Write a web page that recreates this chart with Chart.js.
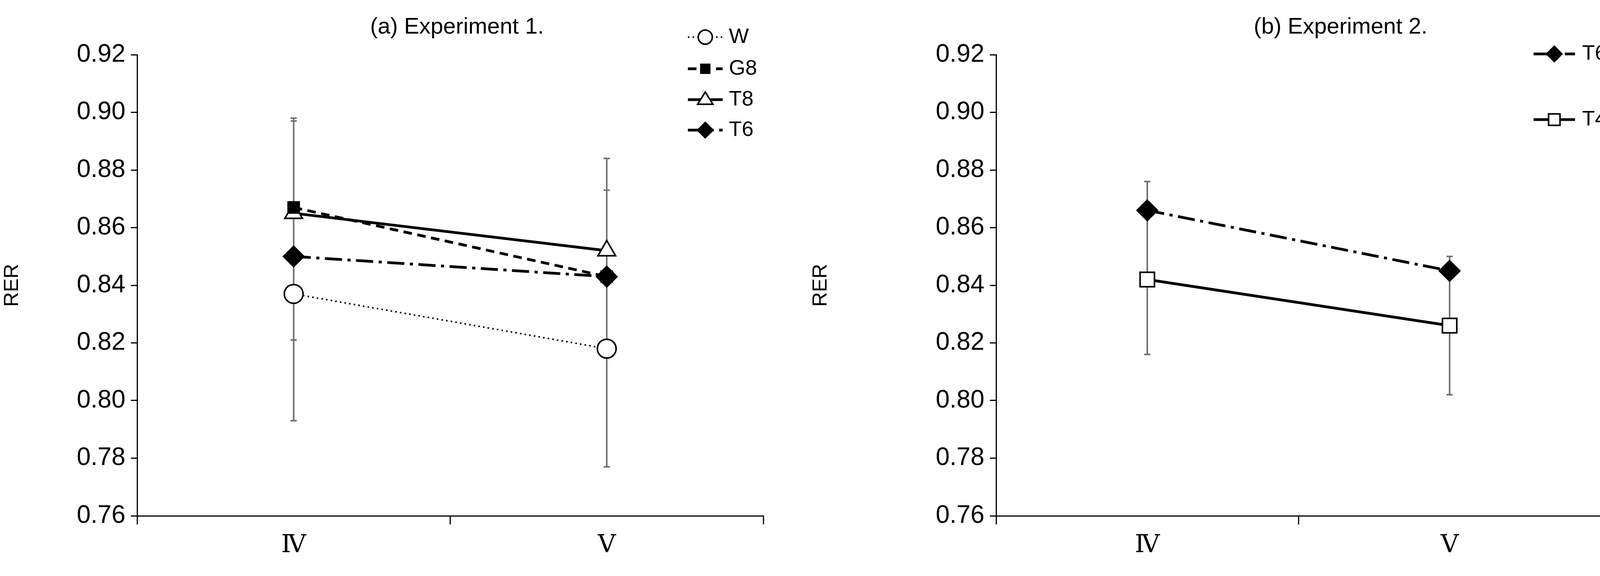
<!DOCTYPE html>
<html><head><meta charset="utf-8">
<script src="https://cdn.jsdelivr.net/npm/chart.js@4/dist/chart.umd.min.js"></script>
<style>
html,body{margin:0;padding:0;background:#fff;width:4140px;height:1474px;overflow:hidden}
.p{position:absolute;top:0;width:2070px;height:1474px}
</style></head><body>
<div class="p" style="left:0"><canvas id="c1"></canvas></div>
<div class="p" style="left:2070px"><canvas id="c2"></canvas></div>
<script>
const categories = ["Ⅳ", "Ⅴ"];
const yTicks = [0.76,0.78,0.80,0.82,0.84,0.86,0.88,0.90,0.92];
// Experiment 1
const W1  = [0.837, 0.818];
const G81 = [0.867, 0.843];
const T81 = [0.865, 0.852];
const T61 = [0.850, 0.843];
const errCaps1 = [[0.898, 0.897, 0.821, 0.793], [0.884, 0.873, 0.821, 0.777]];
// Experiment 2
const T62 = [0.866, 0.845];
const T42 = [0.842, 0.826];
const errCaps2 = [[0.876, 0.816], [0.850, 0.802]];

const FONT = "'Liberation Sans Narrow','Arial Narrow','Liberation Sans',Arial,sans-serif";
Chart.defaults.font.family = FONT;
Chart.defaults.color = '#000';

function errPlugin(caps){return {id:'err',beforeDatasetsDraw(ch){
  const c=ch.ctx,x=ch.scales.x,y=ch.scales.y;
  c.save();c.strokeStyle='#707070';c.lineWidth=4;
  caps.forEach((arr,i)=>{const px=x.getPixelForValue(i);
    const lo=Math.min(...arr),hi=Math.max(...arr);
    c.beginPath();c.moveTo(px,y.getPixelForValue(lo));c.lineTo(px,y.getPixelForValue(hi));c.stroke();
    arr.forEach(v=>{const py=y.getPixelForValue(v);c.beginPath();c.moveTo(px-8,py);c.lineTo(px+8,py);c.stroke();});
  });c.restore();}};}

function legendPlugin(items,x0,x1,tx,ys){return {id:'lg',afterDraw(ch){
  const c=ch.ctx;c.save();
  items.forEach((ds,i)=>{const y=ys[i];
    c.strokeStyle='#000';c.lineWidth=ds.borderWidth;c.setLineDash(ds.borderDash||[]);
    c.beginPath();c.moveTo(x0,y);c.lineTo(x1,y);c.stroke();c.setLineDash([]);
    const mx=(x0+x1)/2, r=ds.pointRadius*0.75;
    c.fillStyle=ds.pointBackgroundColor;c.strokeStyle='#000';c.lineWidth=4;
    c.beginPath();
    if(ds.pointStyle==='circle'){c.arc(mx,y,r,0,7);}
    else if(ds.pointStyle==='rect'){c.rect(mx-r*0.75,y-r*0.75,r*1.5,r*1.5);}
    else if(ds.pointStyle==='rectRot'){c.moveTo(mx,y-r);c.lineTo(mx+r,y);c.lineTo(mx,y+r);c.lineTo(mx-r,y);c.closePath();}
    else if(ds.pointStyle==='triangle'){c.moveTo(mx,y-r);c.lineTo(mx+r,y+r*0.6);c.lineTo(mx-r,y+r*0.6);c.closePath();}
    c.fill();c.stroke();
    c.fillStyle='#000';c.font="54px "+FONT;c.textBaseline='middle';c.textAlign='left';
    c.fillText(ds.label,tx,y);
  });c.restore();}};}

function titlePlugin(t,x){return {id:'tt',afterDraw(ch){const c=ch.ctx;c.save();c.fillStyle='#000';
  c.font="58px "+FONT;c.textAlign='center';c.textBaseline='middle';c.fillText(t,x,70);c.restore();}};}

function ds(label,data,dash,style,bg,r,w){return {label,data,borderColor:'#000',borderWidth:w||7,borderDash:dash,
  pointStyle:style,pointBackgroundColor:bg,pointBorderColor:'#000',pointBorderWidth:4,pointRadius:r,tension:0};}

function opts(axisW,rightPad){return {responsive:false,animation:false,
  layout:{padding:{left:0,right:rightPad,top:140,bottom:0}},
  plugins:{legend:{display:false},tooltip:{enabled:false}},
  scales:{
    x:{offset:true,grid:{offset:true,drawOnChartArea:false,color:'#000',lineWidth:3,tickLength:22,tickColor:'#000'},
       border:{color:'#000',width:3},
       ticks:{font:{family:"'Liberation Serif','DejaVu Serif',serif",size:64},padding:16},
       afterFit(s){s.height=154;}},
    y:{min:0.76,max:0.92,afterBuildTicks(s){s.ticks=yTicks.map(v=>({value:v}));},
       grid:{drawOnChartArea:false,color:'#000',lineWidth:3,tickLength:16},
       border:{color:'#000',width:3},
       ticks:{font:{size:64},padding:14,callback:v=>v.toFixed(2)},
       title:{display:true,text:'RER',font:{family:"'Liberation Sans',Arial,sans-serif",size:52},padding:0},
       afterFit(s){s.width=axisW;}}
  }};}

const d1=[ds('W',W1,[4,8],'circle','#fff',24,4), ds('G8',G81,[22,14],'rect','#000',20),
          ds('T8',T81,[],'triangle','#fff',26), ds('T6',T61,[44,14,8,14],'rectRot','#000',26)];
const c1=document.getElementById('c1');c1.width=2070;c1.height=1474;
new Chart(c1,{type:'line',data:{labels:categories,datasets:d1},options:opts(351,116),
  plugins:[errPlugin(errCaps1),legendPlugin(d1,1761,1850,1866,[95,176,255,333]),titlePlugin('(a) Experiment 1.',1170)]});

const d2=[ds('T6',T62,[44,14,8,14],'rectRot','#000',26), ds('T4',T42,[],'rect','#fff',26)];
const c2=document.getElementById('c2');c2.width=2070;c2.height=1474;
new Chart(c2,{type:'line',data:{labels:categories,datasets:d2},options:opts(480,42),
  plugins:[errPlugin(errCaps2),legendPlugin(d2,1856,1962,1980,[138,306]),titlePlugin('(b) Experiment 2.',1362)]});
</script></body></html>
